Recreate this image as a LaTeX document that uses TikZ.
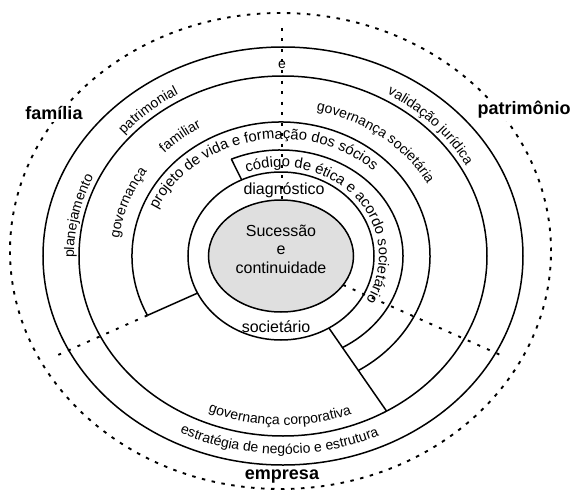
\documentclass[tikz,border=0pt]{standalone}
\usepackage{fontspec}
\setmainfont{Liberation Sans}
\usetikzlibrary{decorations.text}
\newcommand\myarcfont{\fontsize{14pt}{16pt}\selectfont}
\newcommand\myinnerfont{\fontsize{14.8pt}{16pt}\selectfont}
\begin{document}
\begin{tikzpicture}[x=1pt,y=1pt,
  ring/.style={line width=1.5pt},
  dotln/.style={line width=1.9pt, dash pattern=on 3pt off 7.5pt},
  outerdash/.style={line width=1.9pt, dash pattern=on 3.5pt off 6.5pt},
  biglabel/.style={font=\fontsize{18pt}{20pt}\selectfont\bfseries, inner sep=2pt},
  midlabel/.style={font=\fontsize{16pt}{18.5pt}\selectfont, inner sep=0pt, align=center},
  smalllabel/.style={font=\myarcfont, inner sep=0pt},
  arctext/.style={decorate, decoration={text along path, text={|\myarcfont|#1}, text align=center}},
  innertext/.style={decorate, decoration={text along path, text={|\myinnerfont|#1}, text align=center}}
]
\useasboundingbox (-283,-237) rectangle (290,256);

% outer dashed ellipse and the two big rings
\draw[outerdash] (-2.5,5) ellipse [x radius=270.5, y radius=238];
\draw[ring] (0,0) ellipse [x radius=240, y radius=209];
\draw[ring] (0,0) ellipse [x radius=204, y radius=180];

% inner group
\begin{scope}[xshift=-2pt]
  \fill[gray!25] (0,0) ellipse [x radius=72.5, y radius=56];
  \draw[ring] (0,0) ellipse [x radius=72.5, y radius=56];
  \draw[ring] (0,0) ellipse [x radius=93, y radius=84];
  \draw[ring] (206.3:149 and 134) arc[start angle=206.3, end angle=-58.5, x radius=149, y radius=134];
  \draw[ring] (114:122 and 106) arc[start angle=114, end angle=-60, x radius=122, y radius=106];
  \coordinate (llE4) at (206.2:93 and 84);
  \coordinate (llE3) at (206.3:149 and 134);
  \coordinate (bxA) at (114:122 and 106);
  \coordinate (bxB) at (115:93 and 84);
  \coordinate (lrE4) at (-59:93 and 84);
  \coordinate (lrin) at (-31.1:72.5 and 56);
  \coordinate (ctop) at (1,56);
  \path[innertext=projeto de vida e formação dos sócios] (172:135 and 117) arc[start angle=172, end angle=32, x radius=135, y radius=117];
  \path[innertext=código de ética e acordo societário] (120:98 and 89) arc[start angle=120, end angle=-40, x radius=98, y radius=89];
\end{scope}
\coordinate (lrE2) at (-59.5:204 and 180);
\coordinate (llout) at (-225,-99);
\coordinate (lrout) at (222,-101);
\coordinate (vtop) at (-1,228);

% solid connectors
\draw[ring] (llE4) -- (llE3);
\draw[ring] (bxA) -- (bxB);
\draw[ring] (lrE4) -- (lrE2);

% outer band texts
\path[arctext=planejamento] (195:209 and 187) arc[start angle=195, end angle=141, x radius=209, y radius=187];
\path[arctext=patrimonial] (150:209 and 187) arc[start angle=150, end angle=110, x radius=209, y radius=187];
\node[smalllabel] (etop) at (-1,191) {e};
\path[arctext=validação jurídica] (72:209 and 187) arc[start angle=72, end angle=16, x radius=209, y radius=187];
\path[arctext=estratégia de negócio e estrutura] (225:229 and 198) arc[start angle=225, end angle=313, x radius=229, y radius=198];
\path[arctext=governança corporativa] (240:194 and 169) arc[start angle=240, end angle=298, x radius=194, y radius=169];

% second band texts
\path[arctext=governança] (185:165 and 148) arc[start angle=185, end angle=134, x radius=165, y radius=148];
\path[arctext=familiar] (146:165 and 148) arc[start angle=146, end angle=110, x radius=165, y radius=148];
\path[arctext=governança societária] (92:165 and 148) arc[start angle=92, end angle=14, x radius=165, y radius=148];

% centre texts
\node[midlabel] (diag) at (1,66) {diagnóstico};
\node[midlabel] (soc) at (-7,-71) {societário};
\node[midlabel] (core) at (-2,7) {Sucessão\\e\\continuidade};

% dotted dividers
\draw[dotln] (vtop) -- (ctop);
\draw[dotln] (llE3) -- (llout);
\draw[dotln] (lrin) -- (lrout);

% outer labels
\node[biglabel, fill=white] (fam) at (-229,143) {família};
\node[biglabel, fill=white] (pat) at (241,146) {patrimônio};
\node[biglabel] (emp) at (-1,-221) {empresa};
\end{tikzpicture}
\end{document}
